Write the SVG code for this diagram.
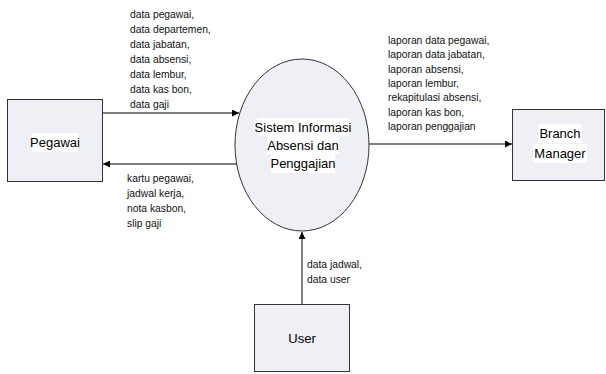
<svg xmlns="http://www.w3.org/2000/svg" width="606" height="374" viewBox="0 0 606 374">
<style>
.box{fill:#eef0f5;stroke:#333;stroke-width:1}
.node{font-family:"Liberation Sans",Arial,sans-serif;font-size:13px;fill:#000;text-anchor:middle}
.lbl{font-family:"Liberation Sans",Arial,sans-serif;font-size:10.3px;fill:#111}
.hl{fill:#fff}
.ln{stroke:#000;stroke-width:1;fill:none}
</style>
<defs>
<marker id="ah" viewBox="0 0 10 10" refX="10" refY="5" markerWidth="7" markerHeight="7" markerUnits="userSpaceOnUse" orient="auto">
<path d="M0,0 L10,5 L0,10 Z" fill="#000"/>
</marker>
</defs>
<rect width="606" height="374" fill="#fff"/>
<g id="connectors">
<line class="ln" x1="102" y1="113" x2="239" y2="113" marker-end="url(#ah)"/>
<line class="ln" x1="237" y1="164" x2="103" y2="164" marker-end="url(#ah)"/>
<line class="ln" x1="369" y1="144" x2="512" y2="144" marker-end="url(#ah)"/>
<line class="ln" x1="302" y1="304" x2="302" y2="232" marker-end="url(#ah)"/>
<text class="lbl" x="130"><tspan x="130" y="18">data pegawai,</tspan><tspan x="130" y="33">data departemen,</tspan><tspan x="130" y="48">data jabatan,</tspan><tspan x="130" y="63">data absensi,</tspan><tspan x="130" y="78">data lembur,</tspan><tspan x="130" y="93">data kas bon,</tspan><tspan x="130" y="108">data gaji</tspan></text>
<text class="lbl"><tspan x="127" y="182">kartu pegawai,</tspan><tspan x="127" y="197">jadwal kerja,</tspan><tspan x="127" y="212">nota kasbon,</tspan><tspan x="127" y="227">slip gaji</tspan></text>
<text class="lbl"><tspan x="388" y="44">laporan data pegawai,</tspan><tspan x="388" y="58.3">laporan data jabatan,</tspan><tspan x="388" y="72.6">laporan absensi,</tspan><tspan x="388" y="86.9">laporan lembur,</tspan><tspan x="388" y="101.2">rekapitulasi absensi,</tspan><tspan x="388" y="115.5">laporan kas bon,</tspan><tspan x="388" y="129.8">laporan penggajian</tspan></text>
<text class="lbl"><tspan x="307" y="268">data jadwal,</tspan><tspan x="307" y="283">data user</tspan></text>
</g>
<g id="pegawai">
<rect class="box" x="7.5" y="99.5" width="95" height="82"/>
<rect class="hl" x="32" y="133" width="46" height="19"/>
<text class="node" x="55" y="147">Pegawai</text>
</g>
<g id="sistem">
<ellipse class="box" cx="302" cy="145" rx="67" ry="86"/>
<rect class="hl" x="257" y="118" width="92" height="18"/>
<rect class="hl" x="267" y="136" width="72" height="18"/>
<rect class="hl" x="271" y="154" width="64" height="19"/>
<text class="node"><tspan x="303" y="132">Sistem Informasi</tspan><tspan x="303" y="150">Absensi dan</tspan><tspan x="303" y="168">Penggajian</tspan></text>
</g>
<g id="branch">
<rect class="box" x="512.5" y="109.5" width="92" height="71"/>
<rect class="hl" x="538" y="124" width="44" height="19"/>
<rect class="hl" x="533" y="144" width="54" height="19"/>
<text class="node"><tspan x="560" y="138">Branch</tspan><tspan x="560" y="158">Manager</tspan></text>
</g>
<g id="user">
<rect class="box" x="254.5" y="304.5" width="95" height="67"/>
<text class="node" x="302" y="343">User</text>
</g>
</svg>
